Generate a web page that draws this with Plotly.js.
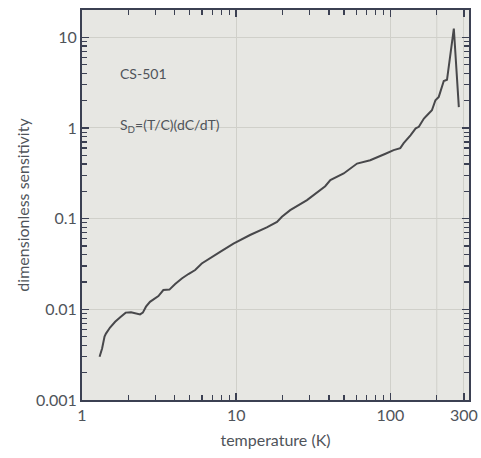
<!DOCTYPE html>
<html>
<head>
<meta charset="utf-8">
<script src="https://cdn.plot.ly/plotly-3.0.1.min.js"></script>
<style>html,body{margin:0;padding:0;background:#fff;}#chart{width:481px;height:458px;}</style>
</head>
<body>
<div id="chart"></div>
<script>
// temperature (K)
const temperature = [1.3, 1.35, 1.4, 1.43, 1.52, 1.64, 1.77, 1.92, 2.08, 2.24, 2.38, 2.48, 2.6, 2.76, 2.95, 3.13, 3.37, 3.69, 4.02, 4.44, 4.9, 5.42, 5.98, 6.78, 7.87, 9.6, 12.3, 15.8, 18.4, 19.8, 22.4, 28.8, 37.8, 40.8, 49.8, 60.8, 74, 93, 105, 116, 122, 135, 146, 153, 165, 173, 186, 196, 206, 222, 233, 258, 278];
// dimensionless sensitivity
const sensitivity = [0.003, 0.0037, 0.005, 0.0054, 0.0063, 0.0073, 0.0082, 0.0092, 0.0093, 0.009, 0.0088, 0.0092, 0.0107, 0.0121, 0.013, 0.014, 0.0163, 0.0165, 0.019, 0.0219, 0.0245, 0.0271, 0.032, 0.037, 0.043, 0.053, 0.066, 0.08, 0.092, 0.105, 0.124, 0.16, 0.228, 0.266, 0.315, 0.405, 0.441, 0.52, 0.57, 0.6, 0.68, 0.83, 0.99, 1.03, 1.27, 1.38, 1.57, 2.02, 2.2, 3.3, 3.4, 12.5, 1.7];

const xTickVals = [1, 10, 100, 300];
const xTickText = ['1', '10', '100', '300'];
const xMinorVals = [2,3,4,5,6,7,8,9,20,30,40,50,60,70,80,90,200];
const xExtraGrid = [200];
const yTickVals = [0.001, 0.01, 0.1, 1, 10];
const yTickText = ['0.001', '0.01', '0.1', '1', '10'];
const yMinorVals = [];
[0.001, 0.01, 0.1, 1, 10].forEach(d => { for (let k = 2; k <= 9; k++) { const v = d * k; if (v <= 20) yMinorVals.push(v); } });

const labels = ['CS-501', 'S<sub>D</sub>=(T/C)(dC/dT)'];

const axisColor = '#3b4052';
const textColor = '#4f545a';
const font = 'Lato, "Open Sans", sans-serif';

const trace = {
  x: temperature, y: sensitivity, type: 'scatter', mode: 'lines',
  line: {color: '#48484b', width: 2}, hoverinfo: 'none'
};

const layout = {
  width: 481, height: 458,
  margin: {l: 82, r: 12, t: 10, b: 58},
  paper_bgcolor: '#ffffff', plot_bgcolor: '#e7e7e3',
  showlegend: false,
  font: {family: font, color: textColor, size: 15},
  xaxis: {
    type: 'log', range: [0, 2.51],
    tickmode: 'array', tickvals: xTickVals, ticktext: xTickText,
    ticks: 'inside', ticklen: 7, tickwidth: 1.5, tickcolor: axisColor,
    showline: true, linecolor: axisColor, linewidth: 2, mirror: 'allticks',
    showgrid: true, gridcolor: '#d0d0ca', gridwidth: 1, zeroline: false,
    tickfont: {size: 16, color: textColor},
    minor: {tickmode: 'array', tickvals: xMinorVals, ticks: 'inside', ticklen: 5, tickwidth: 1.2, tickcolor: axisColor, showgrid: false},
    title: {text: 'temperature (K)', font: {size: 16, color: textColor}, standoff: 12}
  },
  yaxis: {
    type: 'log', range: [-3, Math.log10(20)],
    tickmode: 'array', tickvals: yTickVals, ticktext: yTickText,
    ticks: 'inside', ticklen: 7, tickwidth: 1.5, tickcolor: axisColor,
    showline: true, linecolor: axisColor, linewidth: 2, mirror: 'allticks',
    showgrid: true, gridcolor: '#d0d0ca', gridwidth: 1, zeroline: false,
    tickfont: {size: 16, color: textColor},
    minor: {tickmode: 'array', tickvals: yMinorVals, ticks: 'inside', ticklen: 5, tickwidth: 1.2, tickcolor: axisColor, showgrid: false},
    title: {text: 'dimensionless sensitivity', font: {size: 16, color: textColor}, standoff: 2}
  },
  shapes: xExtraGrid.map(v => ({type: 'line', xref: 'x', yref: 'paper', x0: v, x1: v, y0: 0, y1: 1, layer: 'below', line: {color: '#d0d0ca', width: 1}})),
  annotations: [
    {xref: 'paper', yref: 'paper', x: 0.093, y: 0.838, xanchor: 'left', yanchor: 'middle', text: labels[0], showarrow: false, font: {size: 14, color: textColor}},
    {xref: 'paper', yref: 'paper', x: 0.093, y: 0.705, xanchor: 'left', yanchor: 'middle', text: labels[1], showarrow: false, font: {size: 14, color: textColor}}
  ]
};

Plotly.newPlot('chart', [trace], layout, {staticPlot: true, displayModeBar: false});
</script>
</body>
</html>
